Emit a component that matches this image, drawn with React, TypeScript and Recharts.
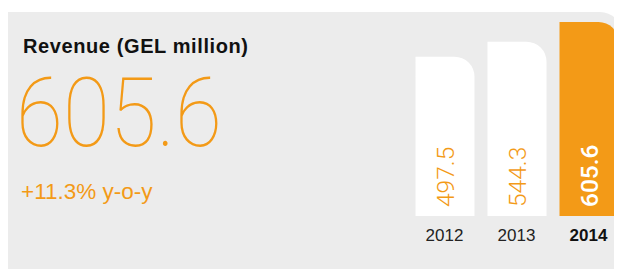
import React from "react";
import { BarChart, Bar, XAxis, YAxis, Cell, LabelList } from "recharts";

const years = ["2012", "2013", "2014"];
const revenue = [497.5, 544.3, 605.6];
const headline = "605.6";
const growth = "+11.3% y-o-y";
const title = "Revenue (GEL million)";

const ORANGE = "#F39A17";
const PANEL = "#ECECEC";

const data = years.map((year, i) => ({ year, revenue: revenue[i] }));
const last = data.length - 1;

const YearTick = (props: any) => {
  const { x, y, payload, index } = props;
  const bold = index === last;
  return (
    <text
      x={x}
      y={y + 25}
      textAnchor="middle"
      fontFamily="'Liberation Sans', Arial, sans-serif"
      fontSize={17}
      fontWeight={bold ? 700 : 400}
      fill={bold ? "#111" : "#222"}
    >
      {payload.value}
    </text>
  );
};

const BarValue = (props: any) => {
  const { x, y, width, height, value, index } = props;
  const bx = x + width / 2 + 8.5;
  const by = y + height - 9;
  const hi = index === last;
  return (
    <text
      x={bx}
      y={by}
      transform={`rotate(-90, ${bx}, ${by})`}
      textAnchor="start"
      fontFamily="Roboto, sans-serif"
      fontSize={24.5}
      fontWeight={hi ? 500 : 300}
      fill={hi ? "#fff" : ORANGE}
    >
      {value}
    </text>
  );
};

export default function App() {
  return (
    <div style={{ position: "relative", width: 614, height: 261 }}>
      <div
        style={{
          position: "absolute",
          left: 0,
          top: 4,
          width: 614,
          height: 265,
          background: PANEL,
          borderTopRightRadius: 22,
          overflow: "hidden",
        }}
      >
        <svg
          width={622}
          height={277}
          style={{ position: "absolute", left: -8, top: -12 }}
        >
          <text
            x={23}
            y={52.5}
            fontFamily="'Liberation Sans', Arial, sans-serif"
            fontSize={20}
            fontWeight={700}
            letterSpacing={0.6}
            fill="#111"
          >
            {title}
          </text>
          <text
            x={16}
            y={146}
            fontFamily="Roboto, sans-serif"
            fontSize={96}
            fontWeight={100}
            textLength={206}
            lengthAdjust="spacingAndGlyphs"
            fill={ORANGE}
          >
            {headline}
          </text>
          <text
            x={21}
            y={199}
            fontFamily="'Liberation Sans', Arial, sans-serif"
            fontSize={22.5}
            fill={ORANGE}
          >
            {growth}
          </text>
        </svg>
        <div style={{ position: "absolute", left: 392, top: 0 }}>
          <BarChart
            width={224.5}
            height={238}
            data={data}
            margin={{ top: 10, right: 0, bottom: 0, left: 8.5 }}
          >
            <XAxis
              dataKey="year"
              axisLine={false}
              tickLine={false}
              tickSize={0}
              tickMargin={0}
              interval={0}
              height={34}
              tick={<YearTick />}
            />
            <YAxis hide domain={[0, "dataMax"]} />
            <Bar
              dataKey="revenue"
              barSize={59}
              radius={[0, 20, 0, 0]}
              isAnimationActive={false}
            >
              {data.map((d, i) => (
                <Cell key={d.year} fill={i === last ? ORANGE : "#fff"} />
              ))}
              <LabelList dataKey="revenue" content={<BarValue />} />
            </Bar>
          </BarChart>
        </div>
      </div>
    </div>
  );
}
